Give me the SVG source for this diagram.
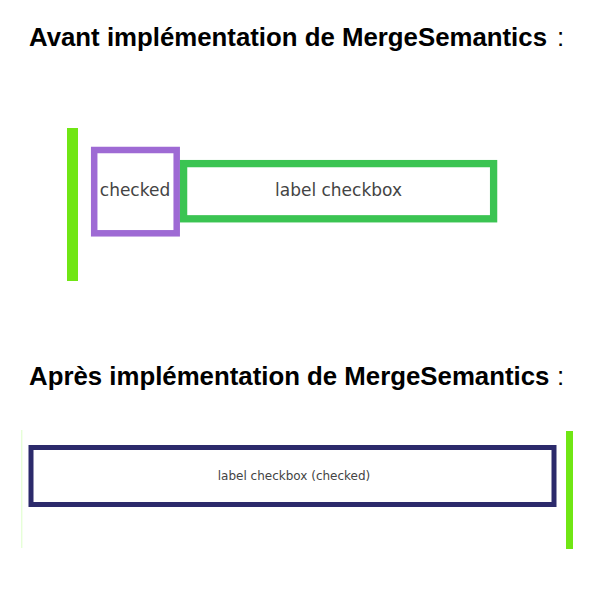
<svg xmlns="http://www.w3.org/2000/svg" width="610" height="607" viewBox="0 0 610 607">
<style>
.title{font-family:"Liberation Sans",Arial,sans-serif;font-weight:bold;font-size:25.8px;fill:#000}
.colon{font-family:"Liberation Sans",Arial,sans-serif;font-size:25.8px;fill:#000}
.lbl{font-family:"DejaVu Sans",sans-serif;fill:#444;text-anchor:middle}
.bar{fill:#70e614}
</style>
<rect width="610" height="607" fill="#fff"/>
<g id="title-avant">
<text class="title" x="29" y="46">Avant implémentation de MergeSemantics</text>
<text class="colon" x="557" y="46">:</text>
</g>
<g id="bar-left">
<rect class="bar" x="67" y="128" width="11" height="153"/>
</g>
<g id="node-checked">
<rect x="94.2" y="150" width="82.5" height="83.3" fill="none" stroke="#9e6ad4" stroke-width="6.5"/>
<text class="lbl" x="135" y="196" font-size="17">checked</text>
</g>
<g id="node-label">
<rect x="183.6" y="163.6" width="310" height="55.2" fill="none" stroke="#3bc452" stroke-width="7.3"/>
<text class="lbl" x="338.5" y="196" font-size="17">label checkbox</text>
</g>
<g id="title-apres">
<text class="title" x="29" y="385">Après implémentation de MergeSemantics</text>
<text class="colon" x="557" y="385">:</text>
</g>
<g id="line-left">
<rect x="21.3" y="430" width="1" height="118" fill="#dcffc8"/>
</g>
<g id="node-merged">
<rect x="31" y="447.5" width="523" height="57" fill="none" stroke="#2c2a6b" stroke-width="5"/>
<text class="lbl" x="294" y="480" font-size="12" fill="#333">label checkbox (checked)</text>
</g>
<g id="bar-right">
<rect class="bar" x="566" y="431" width="7" height="118"/>
</g>
<g id="connectors"/>
</svg>
